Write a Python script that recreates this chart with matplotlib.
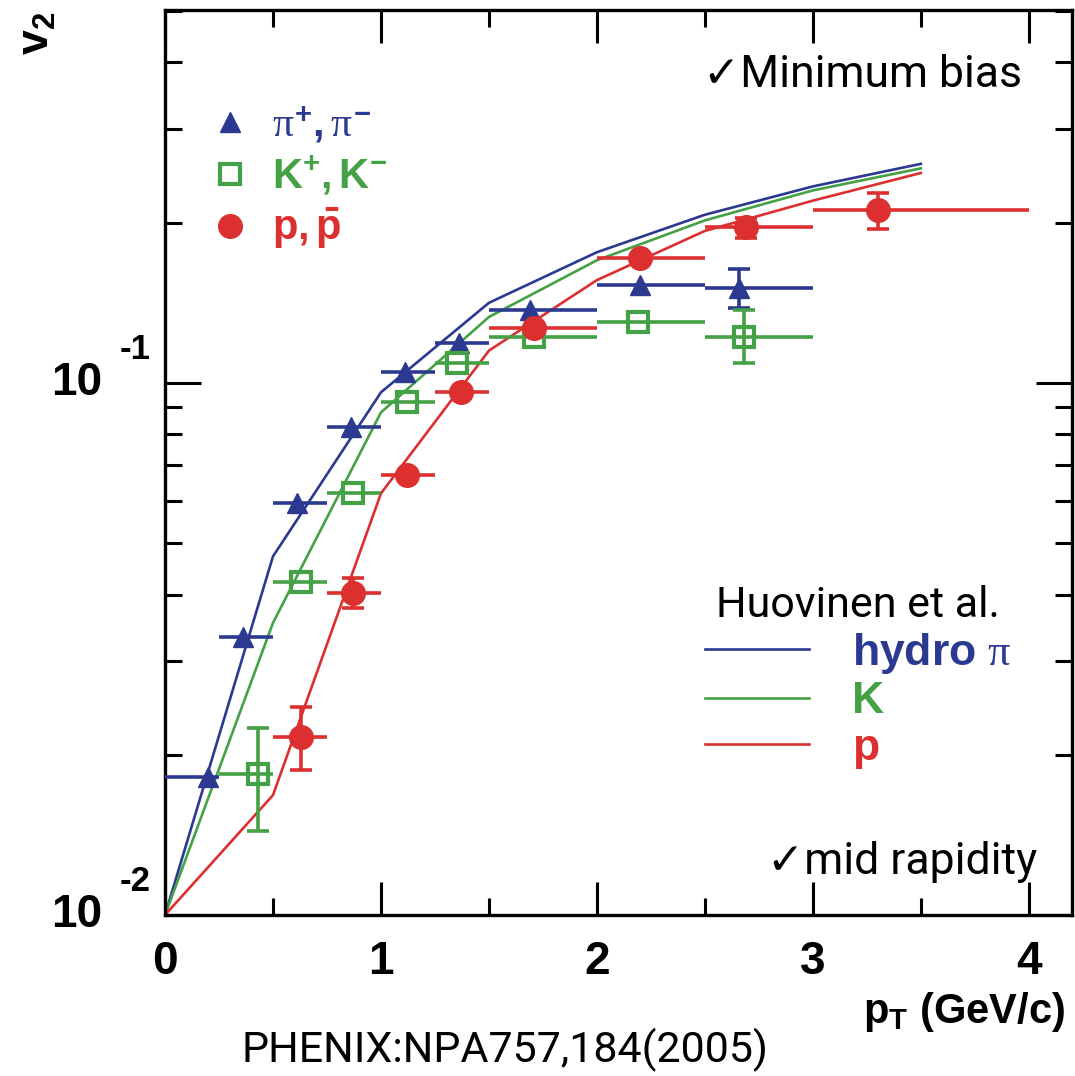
import matplotlib
matplotlib.use('Agg')
import matplotlib.pyplot as plt
import matplotlib.transforms as mtransforms
from matplotlib.lines import Line2D
from matplotlib.ticker import FixedLocator, NullFormatter
from matplotlib.font_manager import FontProperties
import numpy as np

# PHENIX v2 data: pions
pi_pt = [0.20, 0.36, 0.61, 0.86, 1.11, 1.36, 1.69, 2.20, 2.66]
pi_v2 = [0.0182, 0.0333, 0.0594, 0.0826, 0.105, 0.119, 0.137, 0.153, 0.151]
pi_lo = [0.0, 0.25, 0.5, 0.75, 1.0, 1.25, 1.5, 2.0, 2.5]
pi_hi = [0.25, 0.5, 0.75, 1.0, 1.25, 1.5, 2.0, 2.5, 3.0]
pi_up = [0, 0, 0, 0, 0, 0, 0, 0, 0.013]
pi_dn = [0, 0, 0, 0, 0, 0, 0, 0, 0.013]

# kaons
k_pt = [0.43, 0.63, 0.87, 1.12, 1.35, 1.71, 2.19, 2.68]
k_v2 = [0.0184, 0.0423, 0.0621, 0.092, 0.109, 0.122, 0.130, 0.122]
k_lo = [0.25, 0.5, 0.75, 1.0, 1.25, 1.5, 2.0, 2.5]
k_hi = [0.5, 0.75, 1.0, 1.25, 1.5, 2.0, 2.5, 3.0]
k_up = [0.0041, 0, 0, 0, 0, 0, 0, 0.015]
k_dn = [0.0040, 0, 0, 0, 0, 0, 0, 0.013]

# protons
p_pt = [0.63, 0.87, 1.12, 1.37, 1.71, 2.20, 2.69, 3.30]
p_v2 = [0.0216, 0.0403, 0.0672, 0.0962, 0.127, 0.172, 0.196, 0.2115]
p_lo = [0.5, 0.75, 1.0, 1.25, 1.5, 2.0, 2.5, 3.0]
p_hi = [0.75, 1.0, 1.25, 1.5, 2.0, 2.5, 3.0, 4.0]
p_up = [0.0030, 0.0027, 0, 0, 0, 0, 0.008, 0.016]
p_dn = [0.0029, 0.0025, 0, 0, 0, 0, 0.009, 0.017]

# hydro (Huovinen et al.)
hydro_pt = [0.0, 0.5, 1.0, 1.5, 2.0, 2.5, 3.0, 3.5]
hydro_pi = [0.01, 0.0472, 0.096, 0.1414, 0.176, 0.207, 0.234, 0.258]
hydro_k = [0.01, 0.0354, 0.088, 0.133, 0.170, 0.202, 0.230, 0.253]
hydro_p = [0.01, 0.0168, 0.062, 0.115, 0.156, 0.193, 0.220, 0.248]

x_ticks = [0, 1, 2, 3, 4]
x_ticklabels = ['0', '1', '2', '3', '4']
y_decades = [0.01, 0.1]
y_exponents = ['-2', '-1']

c_pi = '#2b3990'
c_k = '#45a145'
c_p = '#dc2f2f'

plt.rcParams['mathtext.fontset'] = 'custom'
plt.rcParams['mathtext.rm'] = 'Liberation Sans:bold'
plt.rcParams['mathtext.bf'] = 'Liberation Sans:bold'
plt.rcParams['mathtext.sf'] = 'Liberation Sans:bold'
plt.rcParams['mathtext.it'] = 'Liberation Serif'

bold = dict(family='Liberation Sans', weight='bold')
note_font = ['Roboto', 'DejaVu Sans']

fig = plt.figure(figsize=(10.75, 10.76), dpi=100)
ax = fig.add_axes([0.1535, 0.1496, 0.8437, 0.8411])
ax.set_yscale('log')
ax.set_xlim(0, 4.2)
ax.set_ylim(0.01, 0.502)

ax.plot(hydro_pt, hydro_pi, color=c_pi, lw=1.9, zorder=2)
ax.plot(hydro_pt, hydro_k, color=c_k, lw=1.9, zorder=2)
ax.plot(hydro_pt, hydro_p, color=c_p, lw=1.9, zorder=2)


def draw(pt, v2, lo, hi, up, dn, color, **mk):
    pt = np.array(pt)
    v2 = np.array(v2)
    up = np.array(up)
    dn = np.array(dn)
    xerr = [pt - np.array(lo), np.array(hi) - pt]
    ax.errorbar(pt, v2, xerr=xerr, fmt='none', ecolor=color,
                elinewidth=2.6, capsize=0, zorder=3)
    m = up > 0
    ax.errorbar(pt[m], v2[m], yerr=[dn[m], up[m]], fmt='none', ecolor=color,
                elinewidth=2.6, capsize=8, capthick=2.6, zorder=3)
    ax.plot(pt, v2, ls='none', color=color, zorder=4, **mk)


draw(pi_pt, pi_v2, pi_lo, pi_hi, pi_up, pi_dn, c_pi, marker='^', ms=15)
draw(k_pt, k_v2, k_lo, k_hi, k_up, k_dn, c_k, marker='s', ms=15, mfc='none', mew=3)
draw(p_pt, p_v2, p_lo, p_hi, p_up, p_dn, c_p, marker='o', ms=17)

# axes styling
for s in ax.spines.values():
    s.set_linewidth(2.4)
ax.set_xticks(x_ticks)
ax.set_xticklabels(x_ticklabels, fontsize=33, **bold)
ax.xaxis.set_minor_locator(FixedLocator([0.5, 1.5, 2.5, 3.5]))
ax.yaxis.set_major_locator(FixedLocator(y_decades))
ax.yaxis.set_minor_locator(FixedLocator([0.02, 0.03, 0.04, 0.05, 0.06, 0.07, 0.08, 0.09,
                                         0.2, 0.3, 0.4, 0.5]))
ax.yaxis.set_major_formatter(NullFormatter())
ax.yaxis.set_minor_formatter(NullFormatter())
ax.tick_params(which='both', direction='in', top=True, right=True, width=2.2)
ax.tick_params(axis='x', which='major', length=24, pad=18)
ax.tick_params(axis='x', which='minor', length=12)
ax.tick_params(axis='y', which='major', length=26)
ax.tick_params(axis='y', which='minor', length=12)

ytr = ax.get_yaxis_transform()
for yv, ex in zip(y_decades, y_exponents):
    ax.text(-0.0695, yv, '10', transform=ytr, ha='right', va='center',
            fontsize=33, clip_on=False, **bold)
    etr = mtransforms.offset_copy(ytr, fig=fig, y=24, units='points')
    ax.text(-0.0496, yv, ex, transform=etr, ha='left', va='center',
            fontsize=25, clip_on=False, **bold)

fig.text(0.034, 0.969, r'$\mathrm{v_2}$', rotation=90, ha='center', va='center', fontsize=32)
fig.text(0.991, 0.049, r'$\mathrm{p_T}$ (GeV/c)', ha='right', va='baseline',
         fontsize=30, **bold)

# legend for data
h1 = [Line2D([], [], ls='none', marker='^', ms=15, color=c_pi),
      Line2D([], [], ls='none', marker='s', ms=15, mfc='none', mew=3, color=c_k),
      Line2D([], [], ls='none', marker='o', ms=17, color=c_p)]
l1 = [r'$\pi^{+},\pi^{-}$', r'$\mathrm{K^{+},K^{-}}$', r'$\mathrm{p,\bar{p}}$']
leg1 = ax.legend(h1, l1, loc='upper left', bbox_to_anchor=(0.0485, 0.895),
                 frameon=False, borderpad=0, borderaxespad=0, handlelength=1.0,
                 handletextpad=0.5, labelspacing=0.2, numpoints=1,
                 prop=FontProperties(size=30, **bold), labelcolor=[c_pi, c_k, c_p])
ax.add_artist(leg1)

# legend for hydro
h2 = [Line2D([], [], color=c_pi, lw=1.9),
      Line2D([], [], color=c_k, lw=1.9),
      Line2D([], [], color=c_p, lw=1.9)]
l2 = [r'hydro $\pi$', 'K', 'p']
leg2 = ax.legend(h2, l2, loc='upper left', bbox_to_anchor=(0.595, 0.365),
                 frameon=False, borderpad=0, borderaxespad=0, handlelength=2.34,
                 handletextpad=0.98, labelspacing=0.12,
                 prop=FontProperties(size=32, **bold), labelcolor=[c_pi, c_k, c_p],
                 title='Huovinen et al.',
                 title_fontproperties=FontProperties(family=note_font, size=31))

fig.text(0.802, 0.930, '\u2713Minimum bias', ha='center', va='center',
         fontsize=32, family=note_font)
fig.text(0.839, 0.199, '\u2713mid rapidity', ha='center', va='center',
         fontsize=32, family=note_font)
fig.text(0.470, 0.024, 'PHENIX:NPA757,184(2005)', ha='center', va='center',
         fontsize=31, family=note_font)

fig.savefig('out.png', dpi=100)
